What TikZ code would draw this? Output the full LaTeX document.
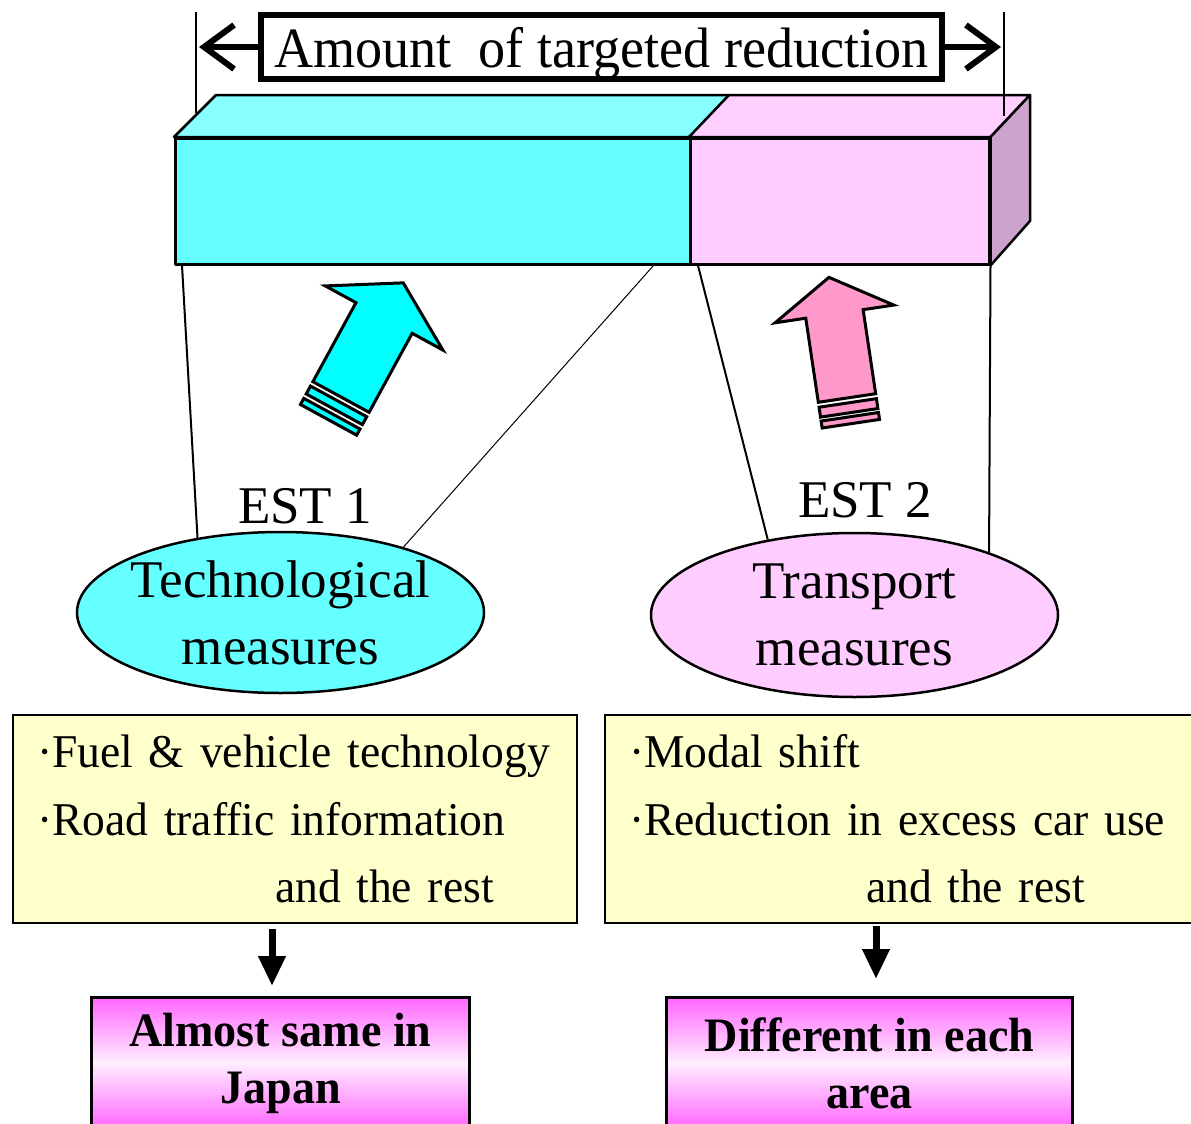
\documentclass[tikz,border=0pt]{standalone}
\usepackage{fontspec}
\setmainfont{Liberation Serif}
\newfontfamily\titlefont[FakeStretch=0.95]{Liberation Serif}
\newfontfamily\narrowfont[FakeStretch=0.96]{Liberation Serif}
\newfontfamily\listfont[FakeStretch=0.97,WordSpace=0.7]{Liberation Serif}
\usetikzlibrary{arrows.meta,shapes.geometric,calc}

\definecolor{barcyan}{HTML}{66FFFF}
\definecolor{topcyan}{HTML}{88FFFF}
\definecolor{barpink}{HTML}{FFCCFF}
\definecolor{toppink}{HTML}{FFD0FF}
\definecolor{sidepink}{HTML}{CCA3CC}
\definecolor{arrowcyan}{HTML}{00FFFF}
\definecolor{arrowpink}{HTML}{FF99CC}
\definecolor{listyellow}{HTML}{FFFFCC}
\definecolor{resmagenta}{HTML}{FF66FF}
\definecolor{respale}{HTML}{FFEEFF}

\tikzset{
  bar face/.style={draw, line width=2.5pt, line join=round},
  title box/.style={draw, line width=6pt, minimum width=681pt, minimum height=64pt,
    inner sep=0pt, text depth=0pt, font=\titlefont\fontsize{57}{60}\selectfont},
  dim line/.style={line width=2pt},
  dim arrow/.style={line width=6pt, -{Straight Barb[length=30pt,width=44pt]}},
  measure/.style={ellipse, draw, line width=2.5pt, minimum width=407pt, minimum height=161pt,
    inner xsep=-10pt, inner ysep=0pt, align=center, font=\fontsize{53}{67}\selectfont},
  est label/.style={anchor=base, inner sep=0pt, font=\fontsize{53}{64}\selectfont},
  link/.style={line width=2pt},
  thin link/.style={line width=1pt},
  block arrow/.style={draw, line width=3pt, line join=miter},
  list box/.style={draw, line width=2pt, fill=listyellow, align=left, anchor=north west,
    inner xsep=24pt, inner ysep=0pt, minimum height=208pt, font=\listfont\fontsize{47}{67.5}\selectfont},
  result box/.style={draw, line width=3pt, anchor=north, minimum height=131pt, align=center,
    top color=resmagenta, bottom color=resmagenta, middle color=respale,
    font=\narrowfont\bfseries\fontsize{48}{57}\selectfont},
  down arrow/.style={line width=7pt, -{Triangle[width=26pt,length=30pt]}},
}

\begin{document}
\begin{tikzpicture}[x=1pt,y=-1pt]
\useasboundingbox (0,0) rectangle (1191,1124);

% the reduction bar, front faces first
\node[bar face, fill=barcyan, minimum width=515pt, minimum height=126pt, anchor=north west] (techbar) at (174,137) {};
\node[bar face, fill=barpink, minimum width=299pt, minimum height=126pt, anchor=north west] (transbar) at (689,137) {};
\filldraw[bar face, fill=topcyan] (techbar.north west) -- ++(42,-42) -- (729,95) -- (techbar.north east) -- cycle;
\filldraw[bar face, fill=toppink] (transbar.north west) -- (729,95) -- (1030,95) -- (transbar.north east) -- cycle;
\filldraw[bar face, fill=sidepink] (transbar.north east) -- (1030,95) -- (1030,221) -- (transbar.south east) -- cycle;

% amount label with its span
\node[title box] (title) at (601.5,47) {Amount\ \ of targeted reduction};
\coordinate (leftstop) at (196,12);
\coordinate (rightstop) at (1004,12);
\draw[dim line] (leftstop) -- ++(0,101);
\draw[dim line] (rightstop) -- ++(0,104);
\draw[dim arrow, shorten >=3pt] (title.west) -- (title.west -| leftstop);
\draw[dim arrow, shorten >=3pt] (title.east) -- (title.east -| rightstop);

% the two kinds of measures
\node[measure, fill=barcyan] (tech) at (280.5,612.5) {Technological\\measures};
\node[measure, fill=barpink, minimum height=164pt] (trans) at (854.5,615) {Transport\\measures};
\node[est label] (est1) at (305,523) {EST 1};
\node[est label] (est2) at (865,517) {EST 2};

\draw[link] ($(techbar.south west)+(8,0)$) -- (tech.138);
\draw[thin link] ($(techbar.south east)+(-38,0)$) -- (tech.28);
\draw[link] ($(transbar.south west)+(9,0)$) -- (trans.139);
\draw[link] (transbar.south east) -- (trans.25);

% block arrows pushing up into the bar
\begin{scope}[shift={(341,397)}, rotate=-28.6]
  \filldraw[block arrow, fill=arrowcyan] (-32,0) -- (-32,-90) -- (-67,-90) -- (0,-130) -- (67,-90) -- (32,-90) -- (32,0) -- cycle;
  \filldraw[block arrow, fill=arrowcyan] (-32,5) rectangle (32,14);
  \filldraw[block arrow, fill=arrowcyan] (-32,19) rectangle (32,26);
\end{scope}
\begin{scope}[shift={(847,398)}, rotate=8.5]
  \filldraw[block arrow, fill=arrowpink] (-29,0) -- (-29,-85) -- (-60,-85) -- (0,-122) -- (60,-85) -- (29,-85) -- (29,0) -- cycle;
  \filldraw[block arrow, fill=arrowpink] (-29,5) rectangle (29,15);
  \filldraw[block arrow, fill=arrowpink] (-29,19) rectangle (29,26);
\end{scope}

% lists of measures
\node[list box, text width=516pt] (techlist) at (12,714)
  {\mbox{·Fuel \& vehicle technology}\\\mbox{·Road traffic information}\\\hspace*{238pt}and the rest};
\node[list box, text width=550pt] (translist) at (604,714)
  {\mbox{·Modal shift}\\\mbox{·Reduction in excess car use}\\\hspace*{237pt}and the rest};

% outcomes
\node[result box, minimum width=378pt] (techres) at (280.5,996) {Almost same in\\Japan};
\node[result box, minimum width=406pt] (transres) at (869.5,996) {Different in each\\area};

\coordinate (techdrop) at (272,0);
\coordinate (transdrop) at (876,0);
\draw[down arrow, shorten <=5pt, shorten >=10pt] (techlist.south -| techdrop) -- (techres.north -| techdrop);
\draw[down arrow, shorten <=2pt, shorten >=17pt] (translist.south -| transdrop) -- (transres.north -| transdrop);
\end{tikzpicture}
\end{document}
